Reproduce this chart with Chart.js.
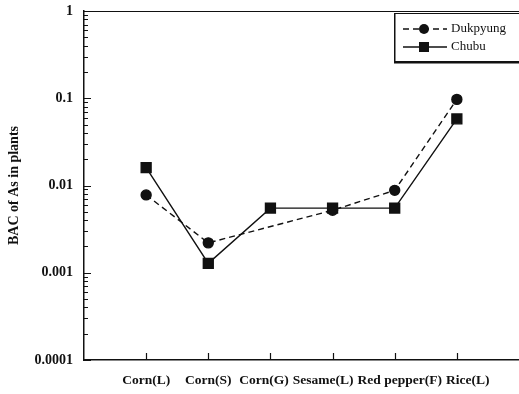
<!DOCTYPE html>
<html lang="en">
<head>
  <meta charset="UTF-8">
  <title>BAC of As in plants</title>
  <script src="https://cdn.jsdelivr.net/npm/chart.js@4"></script>
  <style>
    html, body { margin: 0; padding: 0; background: #fff; }
    #wrap { position: relative; width: 519px; height: 394px; }
  </style>
</head>
<body>
  <div id="wrap">
    <canvas id="bacChart"></canvas>
  </div>

  <script>
    // chart data
    const categories = ['Corn(L)', 'Corn(S)', 'Corn(G)', 'Sesame(L)', 'Red pepper(F)', 'Rice(L)'];
    const dukpyung = [0.0078, 0.0022, null, 0.0052, 0.0088, 0.097];
    const chubu = [0.016, 0.00128, 0.0055, 0.0055, 0.0055, 0.058];
    const yTickValues = [0.0001, 0.001, 0.01, 0.1, 1];
    const yTickLabels = ['0.0001', '0.001', '0.01', '0.1', '1'];

    const ink = '#111';
    const serif = "'Liberation Serif', 'Times New Roman', serif";
    const xLabelFont = 'bold 13.5px ' + serif;

    // one empty slot at each end so the points sit one step in from the frame
    const labels = ['', ...categories, ''];
    const pad = arr => [null, ...arr, null];

    // tick marks inside the frame + top border
    const frameTicks = {
      id: 'frameTicks',
      afterDraw(chart) {
        const { ctx, chartArea, scales: { x, y } } = chart;
        ctx.save();
        ctx.strokeStyle = ink;
        ctx.lineWidth = 1.2;
        ctx.beginPath();
        ctx.moveTo(chartArea.left, chartArea.top + 0.5);
        ctx.lineTo(chartArea.right, chartArea.top + 0.5);
        for (let e = -4; e <= 0; e++) {
          for (let m = 1; m <= 9; m++) {
            const v = m * Math.pow(10, e);
            if (v > 1.0001) break;
            const py = Math.round(y.getPixelForValue(v)) + 0.5;
            const len = m === 1 ? 7 : 4;
            ctx.moveTo(chartArea.left, py);
            ctx.lineTo(chartArea.left + len, py);
          }
        }
        categories.forEach((c, i) => {
          const px = Math.round(x.getPixelForValue(i + 1)) + 0.5;
          ctx.moveTo(px, chartArea.bottom);
          ctx.lineTo(px, chartArea.bottom - 7);
        });
        ctx.stroke();
        ctx.restore();
      }
    };

    // category labels: centred on their tick, nudged apart where they would touch
    const xLabels = {
      id: 'xLabels',
      afterDraw(chart) {
        const { ctx, chartArea, scales: { x } } = chart;
        ctx.save();
        ctx.font = xLabelFont;
        ctx.fillStyle = ink;
        ctx.textAlign = 'center';
        ctx.textBaseline = 'middle';
        const gap = 4;
        const items = categories.map((c, i) => ({
          text: c,
          cx: x.getPixelForValue(i + 1),
          w: ctx.measureText(c).width
        }));
        for (let pass = 0; pass < 20; pass++) {
          for (let i = 0; i < items.length - 1; i++) {
            const a = items[i], b = items[i + 1];
            const over = (a.cx + a.w / 2 + gap) - (b.cx - b.w / 2);
            if (over > 0) { a.cx -= over / 2; b.cx += over / 2; }
          }
        }
        items.forEach(it => ctx.fillText(it.text, it.cx, chartArea.bottom + 21));
        ctx.restore();
      }
    };

    // legend box: line sample with marker, like the original
    const boxLegend = {
      id: 'boxLegend',
      afterDraw(chart) {
        const { ctx } = chart;
        const bx = 394, by = 13, bw = 140, bh = 48;
        ctx.save();
        ctx.fillStyle = '#fff';
        ctx.fillRect(bx, by, bw, bh);
        ctx.strokeStyle = ink;
        ctx.lineWidth = 1;
        ctx.strokeRect(bx + 0.5, by + 0.5, bw, bh);
        ctx.fillStyle = ink;
        ctx.fillRect(bx, by + bh, bw, 2.5);
        ctx.fillRect(bx, by, 1.5, bh + 2);

        chart.data.datasets.forEach((ds, i) => {
          const ry = 29 + i * 18;
          ctx.beginPath();
          ctx.setLineDash(ds.borderDash || []);
          ctx.lineWidth = 1.3;
          ctx.strokeStyle = ink;
          ctx.moveTo(403, ry);
          ctx.lineTo(447, ry);
          ctx.stroke();
          ctx.setLineDash([]);
          ctx.fillStyle = ink;
          if (ds.pointStyle === 'rect') {
            ctx.fillRect(424 - 5, ry - 5, 10, 10);
          } else {
            ctx.beginPath();
            ctx.arc(424, ry, 5, 0, Math.PI * 2);
            ctx.fill();
          }
          ctx.font = '13px ' + serif;
          ctx.textBaseline = 'middle';
          ctx.fillText(ds.label, 451, ry);
        });
        ctx.restore();
      }
    };

    new Chart(document.getElementById('bacChart'), {
      type: 'line',
      data: {
        labels,
        datasets: [
          {
            label: 'Dukpyung',
            data: pad(dukpyung),
            borderColor: ink,
            backgroundColor: ink,
            borderWidth: 1.4,
            borderDash: [6, 4],
            pointStyle: 'circle',
            pointRadius: 5,
            pointHoverRadius: 5,
            spanGaps: true,
            tension: 0
          },
          {
            label: 'Chubu',
            data: pad(chubu),
            borderColor: ink,
            backgroundColor: ink,
            borderWidth: 1.4,
            pointStyle: 'rect',
            pointRadius: 7,
            pointHoverRadius: 7,
            spanGaps: true,
            tension: 0
          }
        ]
      },
      options: {
        responsive: true,
        maintainAspectRatio: false,
        animation: false,
        layout: { autoPadding: false, padding: { top: 11, right: 0, left: 0, bottom: 0 } },
        plugins: {
          legend: { display: false },
          tooltip: { enabled: false }
        },
        scales: {
          x: {
            type: 'category',
            offset: false,
            grid: { display: false, drawTicks: false },
            border: { display: true, color: ink, width: 1.5 },
            ticks: { display: false },
            afterFit(scale) {
              scale.height = 34;
              scale.paddingLeft = 0;
              scale.paddingRight = 0;
            }
          },
          y: {
            type: 'logarithmic',
            min: 0.0001,
            max: 1,
            grid: { display: false, drawTicks: false },
            border: { display: true, color: ink, width: 1.5 },
            afterBuildTicks(scale) {
              scale.ticks = yTickValues.map(v => ({ value: v }));
            },
            ticks: {
              autoSkip: false,
              padding: 11,
              color: ink,
              font: { family: serif, size: 14, weight: 'bold' },
              callback(value) {
                const i = yTickValues.findIndex(v => Math.abs(v - value) < v * 1e-6);
                return i >= 0 ? yTickLabels[i] : '';
              }
            },
            title: {
              display: true,
              text: 'BAC of As in plants',
              color: ink,
              padding: { top: 6, bottom: 0 },
              font: { family: serif, size: 14, weight: 'bold' }
            },
            afterFit(scale) {
              scale.width = 84;
              scale.paddingTop = 0;
              scale.paddingBottom = 0;
            }
          }
        }
      },
      plugins: [frameTicks, xLabels, boxLegend]
    });
  </script>
</body>
</html>
